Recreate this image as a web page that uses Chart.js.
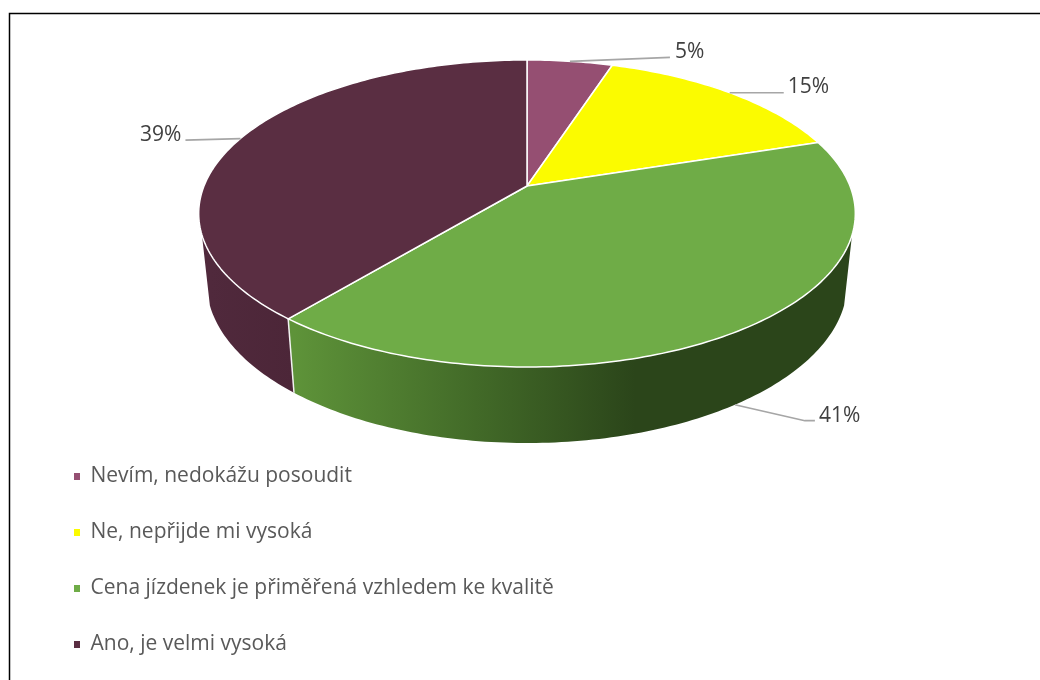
<!DOCTYPE html>
<html><head><meta charset="utf-8">
<style>html,body{margin:0;padding:0;background:#fff}canvas{display:block}</style>
<script src="https://cdn.jsdelivr.net/npm/chart.js@4/dist/chart.umd.min.js"></script>
</head><body>
<canvas id="c" width="1040" height="680"></canvas>
<script>
const categories = ["Nevím, nedokážu posoudit", "Ne, nepřijde mi vysoká", "Cena jízdenek je přiměřená vzhledem ke kvalitě", "Ano, je velmi vysoká"];
const values = [5, 15, 41, 39];
const topColors = ["#954F72", "#FBFB00", "#6FAC47", "#5A2E42"];
const wallStops = [
  [[0, "#5f2f47"], [1, "#5f2f47"]],
  [[0, "#999900"], [1, "#999900"]],
  [[0, "#5E9339"], [0.33, "#426A28"], [0.62, "#2B451A"], [1, "#2B451A"]],
  [[0, "#50293C"], [1, "#4C2638"]]
];
const FONT = "'Open Sans', sans-serif";
// perspective view of the disc
const view = {cx:527, cy:186, a:323, b:148.6, k:0.179,
  top:{cy:213.5, rx:328, ry:153.5}, bot:{cy:283, rx:320, ry:160}, minSin:0.127};
// leader-line geometry relative to each slice's rim anchor
const leaders = [
  {wall:false, pts:[[100,-4]], text:[105,-9], align:"left"},
  {wall:false, pts:[[54,0]], text:[58,-6], align:"left"},
  {wall:true,  pts:[[70,16],[80,16]], text:[84,11], align:"left"},
  {wall:false, pts:[[-55,1.5]], text:[-59,-4], align:"right"}
];
const legendShift = 10;
function rim(theta){
  const u=Math.sin(theta), v=-Math.cos(theta), w=1-view.k*v;
  return {x:view.cx+view.a*u/w, y:view.cy+view.b*v/w};
}
function toBottom(p){
  const px=(p.x-view.cx)/view.top.rx, py=(p.y-view.top.cy)/view.top.ry;
  return {x:view.cx+px*view.bot.rx, y:view.bot.cy+py*view.bot.ry};
}
function angles(arc){ return [arc.startAngle+Math.PI/2, arc.endAngle+Math.PI/2]; }
function samples(t0,t1){
  const n=Math.max(2,Math.ceil((t1-t0)*60)), out=[];
  for(let i=0;i<=n;i++) out.push(rim(t0+(t1-t0)*i/n));
  return out;
}
const pie3d = {
  id:"pie3d",
  afterLayout(chart){ chart.legend.top+=legendShift; chart.legend.bottom+=legendShift; },
  beforeDatasetsDraw(chart){
    const ctx=chart.ctx, arcs=chart.getDatasetMeta(0).data;
    ctx.save();
    // frame
    ctx.strokeStyle="#000"; ctx.lineWidth=1.5; ctx.beginPath();
    ctx.moveTo(9.5,680); ctx.lineTo(9.5,13.5); ctx.lineTo(1040,13.5); ctx.stroke();
    // walls
    const minY=view.top.cy+view.minSin*view.top.ry;
    arcs.forEach((arc,i)=>{
      const [t0,t1]=angles(arc);
      const pts=samples(t0,t1).filter(p=>p.y>=minY);
      if(pts.length<2) return;
      const bots=pts.map(toBottom);
      const xs=bots.map(p=>p.x), x0=Math.min(...xs), x1=Math.max(...xs);
      const g=ctx.createLinearGradient(x0,0,x1,0);
      wallStops[i].forEach(s=>g.addColorStop(s[0],s[1]));
      ctx.fillStyle=g; ctx.beginPath();
      pts.forEach((p,j)=>j?ctx.lineTo(p.x,p.y):ctx.moveTo(p.x,p.y));
      bots.reverse().forEach(p=>ctx.lineTo(p.x,p.y));
      ctx.closePath(); ctx.fill();
    });
    // wall seam
    ctx.strokeStyle="#f2f2f2"; ctx.lineWidth=1.5;
    arcs.forEach(arc=>{
      const p=rim(angles(arc)[0]);
      if(p.y>=minY){const b=toBottom(p); ctx.beginPath(); ctx.moveTo(p.x,p.y); ctx.lineTo(b.x,b.y); ctx.stroke();}
    });
    // top faces
    arcs.forEach((arc,i)=>{
      const [t0,t1]=angles(arc);
      ctx.fillStyle=topColors[i]; ctx.strokeStyle="#fff"; ctx.lineWidth=1.5; ctx.lineJoin="round";
      ctx.beginPath(); ctx.moveTo(view.cx,view.cy);
      samples(t0,t1).forEach(p=>ctx.lineTo(p.x,p.y));
      ctx.closePath(); ctx.fill(); ctx.stroke();
    });
    // leaders and labels
    ctx.font="21px "+FONT; ctx.textBaseline="middle";
    arcs.forEach((arc,i)=>{
      const [t0,t1]=angles(arc), L=leaders[i];
      let p=rim((t0+t1)/2); if(L.wall) p=toBottom(p);
      ctx.strokeStyle="#A6A6A6"; ctx.lineWidth=1.7; ctx.beginPath(); ctx.moveTo(p.x,p.y);
      L.pts.forEach(d=>ctx.lineTo(p.x+d[0],p.y+d[1])); ctx.stroke();
      ctx.fillStyle="#404040"; ctx.textAlign=L.align;
      ctx.fillText(values[i]+"%",p.x+L.text[0],p.y+L.text[1]);
    });
    ctx.restore();
    return false;
  }
};
new Chart(document.getElementById("c"),{
  type:"pie",
  data:{labels:categories,datasets:[{data:values,backgroundColor:topColors,borderWidth:0}]},
  options:{
    responsive:false,animation:false,
    layout:{padding:{left:39}},
    plugins:{
      tooltip:{enabled:false},
      legend:{position:"left",align:"end",maxWidth:800,
        labels:{boxWidth:6,boxHeight:7,padding:35,color:"#595959",font:{family:FONT,size:21}}}
    }
  },
  plugins:[pie3d]
});
</script>
</body></html>
